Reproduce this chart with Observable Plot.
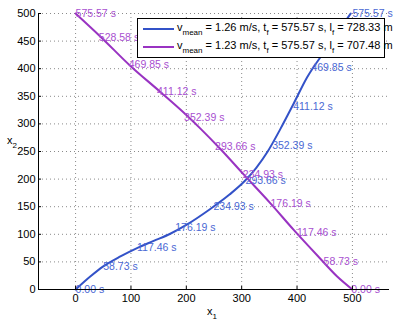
<!DOCTYPE html>
<html>
<head>
<meta charset="utf-8">
<script src="https://cdn.jsdelivr.net/npm/d3@7"></script>
<script src="https://cdn.jsdelivr.net/npm/@observablehq/plot@0.6"></script>
<style>
  html, body { margin: 0; padding: 0; background: #fff; }
  #wrap { position: relative; width: 393px; height: 321px; font-family: "Liberation Sans", Arial, Helvetica, sans-serif; }
  #wrap svg { overflow: visible; }
  .lab { position: absolute; font-size: 11px; color: #000; line-height: 1; white-space: nowrap; }
  .lab sub { font-size: 8px; vertical-align: -4px; line-height: 0; }
  #legend { position: absolute; left: 137px; top: 18px; width: 246px; height: 38px; border: 1px solid #000; background: #fff; }
  .row { position: absolute; left: 0; height: 14px; white-space: nowrap; font-size: 11px; line-height: 14px; }
  .swatch { position: absolute; left: 5px; width: 31px; height: 2px; top: 6px; }
  .txt { position: absolute; left: 39px; top: -2px; }
  .txt sub { font-size: 8px; vertical-align: -4px; line-height: 0; }
</style>
</head>
<body>
<div id="wrap"></div>
<script>
// ---- data ----
const times = [0, 58.73, 117.46, 176.19, 234.93, 293.66, 352.39, 411.12, 469.85, 528.58, 575.57];
const timeLabels = ["0.00 s", "58.73 s", "117.46 s", "176.19 s", "234.93 s", "293.66 s", "352.39 s", "411.12 s", "469.85 s", "528.58 s", "575.57 s"];

// series 1 (blue) points at labelled times
const blueX = [0, 50, 111, 180, 249, 307, 355, 393, 426, 460, 500];
const blueY = [0, 42, 76, 112, 150, 198, 260, 332, 402, 455, 500];
// series 1 path
const bluePathX = [0, 27, 50, 81, 111, 141, 171, 200, 242, 278, 305, 326, 347, 370, 394, 418, 450, 497];
const bluePathY = [0, 24, 42, 60, 75, 88, 101, 117, 145, 172, 196, 220, 250, 291, 337, 384, 432, 500];

// series 2 (purple) points at labelled times
const purpleX = [498, 448, 400, 352, 302, 252, 196, 147, 96, 42, 0];
const purpleY = [0, 50, 103, 156, 208, 258, 312, 358, 408, 457, 500];
// series 2 path
const purplePathX = [0, 45, 99, 153, 199, 226, 262, 304, 352, 394, 440, 472, 500];
const purplePathY = [500, 458, 405, 358, 317, 291, 254, 208, 156, 108, 58, 24, 0];

const xTicks = [0, 100, 200, 300, 400, 500];
const yTicks = [0, 50, 100, 150, 200, 250, 300, 350, 400, 450, 500];

const legendEntries = [
  {v: "1.26", t: "575.57", l: "728.33"},
  {v: "1.23", t: "575.57", l: "707.48"}
];

const blueLine = "#3352c8", blueText = "#4a68d4";
const purpleLine = "#9933c2", purpleText = "#a84fd0";

// ---- tables ----
const bluePath = bluePathX.map((x, i) => ({x, y: bluePathY[i]}));
const purplePath = purplePathX.map((x, i) => ({x, y: purplePathY[i]}));
const blueLabels = times.map((t, i) => ({x: blueX[i], y: blueY[i], s: timeLabels[i]}));
const purpleLabels = times.map((t, i) => ({x: purpleX[i], y: purpleY[i], s: timeLabels[i]}));

const xDomain = [-67, 567];

const chart = Plot.plot({
  width: 393,
  height: 321,
  marginLeft: 38,
  marginRight: 4,
  marginTop: 13,
  marginBottom: 32,
  style: {fontFamily: '"Liberation Sans", Arial, Helvetica, sans-serif', fontSize: "11px", background: "#fff", color: "#000"},
  x: {domain: xDomain, ticks: xTicks, label: null},
  y: {domain: [0, 500], ticks: yTicks, label: null},
  marks: [
    Plot.gridX(xTicks, {stroke: "#8a8a8a", strokeOpacity: 1, strokeDasharray: "1,3", strokeWidth: 1}),
    Plot.gridY(yTicks, {stroke: "#8a8a8a", strokeOpacity: 1, strokeDasharray: "1,3", strokeWidth: 1}),
    Plot.line(bluePath, {x: "x", y: "y", stroke: blueLine, strokeWidth: 2, curve: "monotone-x"}),
    Plot.line(purplePath, {x: "x", y: "y", stroke: purpleLine, strokeWidth: 2, curve: "monotone-x"}),
    Plot.text(blueLabels, {x: "x", y: "y", text: "s", textAnchor: "start", lineAnchor: "middle", fill: blueText, fontSize: 10.5}),
    Plot.text(purpleLabels, {x: "x", y: "y", text: "s", textAnchor: "start", lineAnchor: "middle", fill: purpleText, fontSize: 10.5}),
    Plot.ruleY([0], {x1: xDomain[0], x2: xDomain[1], stroke: "#000", strokeWidth: 1}),
    Plot.ruleX([xDomain[0]], {y1: 0, y2: 500, stroke: "#000", strokeWidth: 1}),
    Plot.ruleX(xTicks, {y1: 0, y2: 5.5, stroke: "#000", strokeWidth: 1}),
    Plot.ruleY(yTicks, {x1: xDomain[0], x2: xDomain[0] + 5.5, stroke: "#000", strokeWidth: 1}),
    Plot.axisX(xTicks, {tickSize: 0, tickPadding: 5, fontSize: 11, fill: "#000", label: null}),
    Plot.axisY(yTicks, {tickSize: 0, tickPadding: 3, fontSize: 11, fill: "#000", label: null})
  ]
});

const wrap = document.getElementById("wrap");
wrap.appendChild(chart);

// axis labels
const xl = document.createElement("div");
xl.className = "lab";
xl.style.left = "207px"; xl.style.top = "306px";
xl.innerHTML = "x<sub>1</sub>";
wrap.appendChild(xl);
const yl = document.createElement("div");
yl.className = "lab";
yl.style.left = "7px"; yl.style.top = "135px";
yl.innerHTML = "x<sub>2</sub>";
wrap.appendChild(yl);

// legend
const lg = document.createElement("div");
lg.id = "legend";
const colors = [blueLine, purpleLine];
legendEntries.forEach((e, i) => {
  const row = document.createElement("div");
  row.className = "row";
  row.style.top = (i === 0 ? 3 : 21) + "px";
  row.innerHTML = `<div class="swatch" style="background:${colors[i]}"></div>` +
    `<div class="txt">v<sub>mean</sub> = ${e.v} m/s, t<sub>f</sub> = ${e.t} s, l<sub>f</sub> = ${e.l} m</div>`;
  lg.appendChild(row);
});
wrap.appendChild(lg);
</script>
</body>
</html>
